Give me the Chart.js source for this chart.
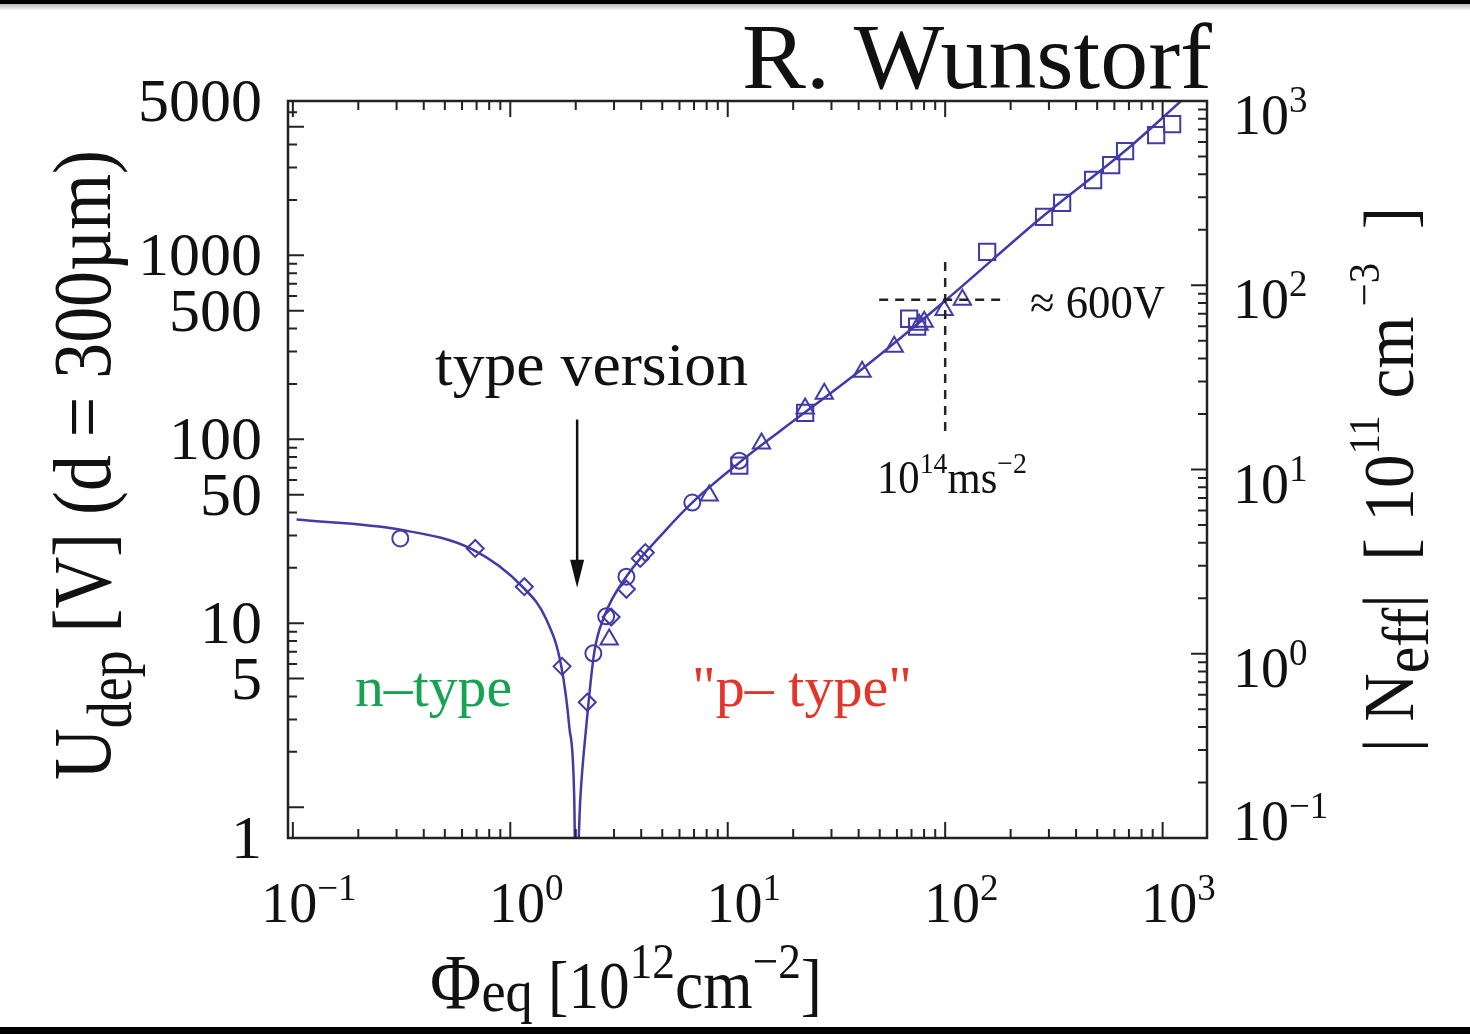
<!DOCTYPE html>
<html>
<head>
<meta charset="utf-8">
<script src="https://cdn.jsdelivr.net/npm/chart.js@4.4.1/dist/chart.umd.min.js"></script>
<style>
  html, body { margin: 0; padding: 0; background: #fff; }
  #wrap { width: 1470px; height: 1034px; }
</style>
</head>
<body>
<div id="wrap"><canvas id="udepChart" width="1470" height="1034"></canvas></div>
<script>
// fluence in 1e12 cm^-2, depletion voltage in V
const curvePhi = [0.104, 0.309, 0.669, 1.136, 1.464, 1.716, 1.867, 1.969, 2.0, 2.098, 2.236, 2.433, 2.705, 3.415, 5.215, 6.868, 11.29, 17.25, 41.1, 101, 279, 679, 1229];
const curveU   = [36.6, 32.3, 25.2, 15.8, 10.5, 5.83, 2.75, 1.10, 0.3, 1.10, 2.75, 6.94, 10.9, 17.9, 32.3, 45.3, 74.6, 110, 239, 572, 1616, 3733, 6977];

const circlePhi = [0.312, 2.41, 2.76, 3.42, 6.87, 11.3];
const circleU   = [28.9, 6.86, 10.9, 17.9, 45.3, 76.5];

const diamondPhi = [0.690, 1.16, 1.73, 2.26, 2.91, 3.42, 3.96, 4.18];
const diamondU   = [25.5, 15.8, 5.83, 3.72, 10.8, 15.3, 22.5, 24.2];

const trianglePhi = [2.85, 8.22, 14.3, 22.7, 27.8, 41.5, 58.3, 75.9, 80.1, 98.9, 120];
const triangleU   = [8.17, 49.4, 94.7, 147, 177, 233, 318, 419, 435, 505, 573];

const squarePhi = [11.3, 22.7, 68.3, 74.3, 156, 285, 345, 479, 580, 672, 934, 1106];
const squareU   = [71.9, 139, 452, 409, 1043, 1616, 1925, 2567, 3090, 3688, 4505, 5170];

// axes
const xDecades = [0.1, 1, 10, 100, 1000];
const xExponents = ['\u22121', '0', '1', '2', '3'];
const uLabels = [1, 5, 10, 50, 100, 500, 1000, 5000];
const uDecades = [1, 10, 100, 1000];
const nDecades = [0.1, 1, 10, 100, 1000];
const nExponents = ['\u22121', '0', '1', '2', '3'];
const minorSteps = [2, 3, 4, 5, 6, 7, 8, 9];

// crossing marked by the dashed lines
const markPhi = 100, markU = 573;

const blue = 'rgb(66,58,166)';
const serif = '"Liberation Serif", "DejaVu Serif", serif';

function pts(xs, ys) { return xs.map((v, i) => ({ x: v, y: ys[i] })); }

function partsWidth(ctx, parts) {
  let w = 0;
  parts.forEach(p => { ctx.font = p.size + 'px ' + serif; w += ctx.measureText(p.t).width; });
  return w;
}
// draws text pieces with sub/superscripts, left edge at x0, scaled to fit length
function drawParts(ctx, parts, x0, base, len, sy) {
  const w = partsWidth(ctx, parts);
  const sx = len ? len / w : 1;
  ctx.save();
  ctx.translate(x0, base);
  ctx.scale(sx, sy || 1);
  let cx = 0;
  parts.forEach(p => {
    ctx.font = p.size + 'px ' + serif;
    ctx.fillStyle = p.color || '#111';
    ctx.fillText(p.t, cx, p.dy || 0);
    cx += ctx.measureText(p.t).width;
  });
  ctx.restore();
}

const figurePlugin = {
  id: 'figurePlugin',
  afterDatasetsDraw(chart) {
    const { ctx, chartArea: a, scales } = chart;
    const sx = scales.x, sy = scales.y, sr = scales.yR;
    ctx.save();

    // dashed guide lines at 1e14 cm^-2 / ~600 V
    ctx.strokeStyle = '#222';
    ctx.lineWidth = 2.5;
    ctx.setLineDash([9, 7]);
    ctx.beginPath();
    ctx.moveTo(sx.getPixelForValue(49.7), sy.getPixelForValue(markU));
    ctx.lineTo(sx.getPixelForValue(193), sy.getPixelForValue(markU));
    ctx.moveTo(sx.getPixelForValue(markPhi), sy.getPixelForValue(921));
    ctx.lineTo(sx.getPixelForValue(markPhi), sy.getPixelForValue(106));
    ctx.stroke();
    ctx.setLineDash([]);

    // type inversion arrow
    const ax = sx.getPixelForValue(2.03);
    const aTop = sy.getPixelForValue(128), aTip = sy.getPixelForValue(15.6);
    ctx.strokeStyle = '#111';
    ctx.fillStyle = '#111';
    ctx.lineWidth = 2.5;
    ctx.beginPath();
    ctx.moveTo(ax, aTop);
    ctx.lineTo(ax, aTip - 20);
    ctx.stroke();
    ctx.beginPath();
    ctx.moveTo(ax, aTip);
    ctx.lineTo(ax - 7, aTip - 28);
    ctx.lineTo(ax + 7, aTip - 28);
    ctx.closePath();
    ctx.fill();

    // frame
    ctx.strokeStyle = '#222';
    ctx.lineWidth = 2.5;
    ctx.strokeRect(a.left, a.top, a.right - a.left, a.bottom - a.top);

    // tick marks, pointing inwards
    const longT = 16, shortT = 9;
    ctx.lineWidth = 2;
    ctx.beginPath();
    const within = (v, s) => v >= s.min && v <= s.max;
    xDecades.forEach(d => {
      [1].concat(minorSteps).forEach(m => {
        const v = d * m;
        if (!within(v, sx)) return;
        const px = sx.getPixelForValue(v), l = m === 1 ? longT : shortT;
        ctx.moveTo(px, a.bottom); ctx.lineTo(px, a.bottom - l);
        ctx.moveTo(px, a.top); ctx.lineTo(px, a.top + l);
      });
    });
    uDecades.forEach(d => {
      [1].concat(minorSteps).forEach(m => {
        const v = d * m;
        if (!within(v, sy)) return;
        const py = sy.getPixelForValue(v), l = (m === 1 || m === 5) ? longT : shortT;
        ctx.moveTo(a.left, py); ctx.lineTo(a.left + l, py);
      });
    });
    nDecades.forEach(d => {
      [1].concat(minorSteps).forEach(m => {
        const v = d * m;
        if (!within(v, sr)) return;
        const py = sr.getPixelForValue(v), l = m === 1 ? longT : shortT;
        ctx.moveTo(a.right, py); ctx.lineTo(a.right - l, py);
      });
    });
    ctx.stroke();

    // tick labels
    ctx.fillStyle = '#111';
    ctx.textBaseline = 'alphabetic';
    ctx.textAlign = 'left';
    xDecades.forEach((d, i) => {
      const parts = [{ t: '10', size: 56 }, { t: xExponents[i], size: 37, dy: -22 }];
      const w = partsWidth(ctx, parts);
      drawParts(ctx, parts, sx.getPixelForValue(d) + 16 - w / 2, 922);
    });
    uLabels.forEach((v, i) => {
      let py = sy.getPixelForValue(v);
      if (i === 0) py = a.bottom;                     // outer labels sit on the frame corners
      if (i === uLabels.length - 1) py = a.top;
      ctx.font = '62px ' + serif;
      const t = String(v);
      ctx.fillText(t, 262 - ctx.measureText(t).width, py + 20);
    });
    nDecades.forEach((d, i) => {
      const py = Math.min(sr.getPixelForValue(d) + 33, a.bottom + 2);
      drawParts(ctx, [{ t: '10', size: 56 }, { t: nExponents[i], size: 37, dy: -22 }], 1233, py);
    });

    // axis titles
    drawParts(ctx, [
      { t: '\u03A6', size: 62 }, { t: 'eq', size: 48, dy: 2 }, { t: ' [10', size: 54 },
      { t: '12', size: 40, dy: -24 }, { t: 'cm', size: 56 }, { t: '\u22122', size: 40, dy: -24 }, { t: ']', size: 56 }
    ], 430, 1008, 392, 1.25);

    ctx.save();
    ctx.translate(110, 780);
    ctx.rotate(-Math.PI / 2);
    drawParts(ctx, [
      { t: 'U', size: 64 }, { t: 'dep', size: 48, dy: 16 }, { t: ' [V] (d = 300\u00B5m)', size: 64 }
    ], 0, 0, 630, 1.3);
    ctx.restore();

    ctx.save();
    ctx.translate(1413, 752);
    ctx.rotate(-Math.PI / 2);
    drawParts(ctx, [
      { t: '| N', size: 56 }, { t: 'eff', size: 50, dy: 12 }, { t: '|  [ 10', size: 56 },
      { t: '11', size: 34, dy: -26 }, { t: ' cm', size: 56 }, { t: ' \u22123', size: 34, dy: -26 }, { t: '  ]', size: 56 }
    ], 0, 0, 545, 1.29);
    ctx.restore();

    // annotations
    drawParts(ctx, [{ t: 'R. Wunstorf', size: 93 }], 742, 88, 470);
    drawParts(ctx, [{ t: 'type version', size: 62 }], 435, 385, 313);
    drawParts(ctx, [{ t: 'n\u2013type', size: 58, color: '#17a352' }], 355, 706, 157);
    drawParts(ctx, [{ t: '"p\u2013 type"', size: 58, color: '#e5342a' }], 692, 706, 220);
    drawParts(ctx, [{ t: '\u2248 600V', size: 46 }], 1030, 318, 135);
    drawParts(ctx, [
      { t: '10', size: 46 }, { t: '14', size: 30, dy: -20 }, { t: 'ms', size: 46 }, { t: '\u22122', size: 30, dy: -20 }
    ], 877, 493, 150);

    // screenshot border bars
    ctx.fillStyle = '#000';
    ctx.fillRect(0, 0, chart.width, 4);
    const g = ctx.createLinearGradient(0, 4, 0, 11);
    g.addColorStop(0, '#bbb');
    g.addColorStop(1, '#fff');
    ctx.fillStyle = g;
    ctx.fillRect(0, 4, chart.width, 7);
    ctx.fillStyle = '#000';
    ctx.fillRect(0, 1027, chart.width, 7);

    ctx.restore();
  }
};

const markerStyle = { showLine: false, borderColor: blue, backgroundColor: 'rgba(0,0,0,0)', borderWidth: 2 };

new Chart(document.getElementById('udepChart').getContext('2d'), {
  type: 'scatter',
  data: {
    datasets: [
      { type: 'line', label: 'fit', data: pts(curvePhi, curveU), borderColor: blue, borderWidth: 2.5,
        pointRadius: 0, fill: false, cubicInterpolationMode: 'monotone', clip: 0 },
      Object.assign({ label: 'circle', data: pts(circlePhi, circleU), pointStyle: 'circle', pointRadius: 8 }, markerStyle),
      Object.assign({ label: 'diamond', data: pts(diamondPhi, diamondU), pointStyle: 'rectRot', pointRadius: 8.5 }, markerStyle),
      Object.assign({ label: 'triangle', data: pts(trianglePhi, triangleU), pointStyle: 'triangle', pointRadius: 10 }, markerStyle),
      Object.assign({ label: 'square', data: pts(squarePhi, squareU), pointStyle: 'rect', pointRadius: 11.5 }, markerStyle)
    ]
  },
  options: {
    responsive: false,
    animation: false,
    devicePixelRatio: 1,
    layout: { padding: { left: 288, right: 263, top: 101, bottom: 196 } },
    plugins: { legend: { display: false }, tooltip: { enabled: false } },
    scales: {
      x: { type: 'logarithmic', min: 0.095, max: 1600, display: false },
      y: { type: 'logarithmic', min: 0.68, max: 6900, display: false },
      yR: { type: 'logarithmic', position: 'right', min: 0.1, max: 1000, display: false }
    }
  },
  plugins: [figurePlugin]
});
</script>
</body>
</html>
